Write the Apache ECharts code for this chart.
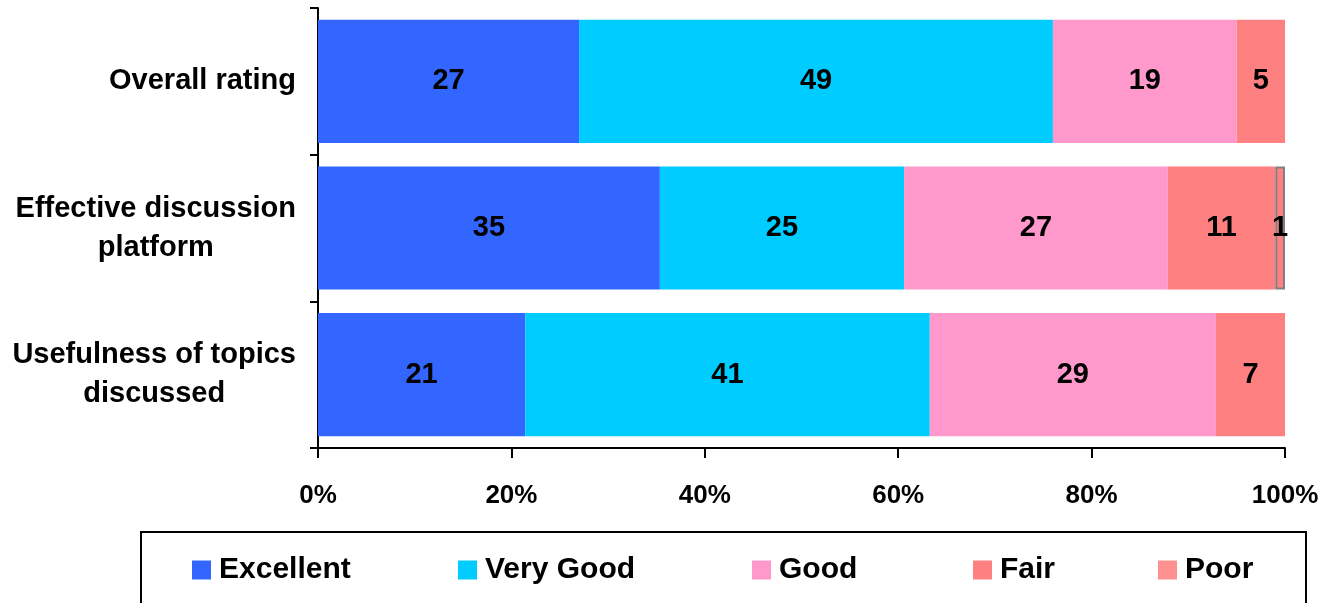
<!DOCTYPE html>
<html>
<head>
<meta charset="utf-8">
<script src="https://cdn.jsdelivr.net/npm/echarts@6/dist/echarts.min.js"></script>
<style>
html,body{margin:0;padding:0;background:#fff;}
#chart{width:1326px;height:603px;}
</style>
</head>
<body>
<div id="chart"></div>
<script>
const categories = ['Overall rating', 'Effective discussion\nplatform', 'Usefulness of topics\ndiscussed'];
const seriesNames = ['Excellent', 'Very Good', 'Good', 'Fair', 'Poor'];
const excellent = [27, 35, 21];
const veryGood = [49, 25, 41];
const good = [19, 27, 29];
const fair = [5, 11, 7];
const poor = [0, 1, 0];
const xTicks = [0, 20, 40, 60, 80, 100];

const colors = ['#3366FF', '#00CCFF', '#FF99CC', '#FF8080', '#FF8080'];
const legendIconColors = ['#3366FF', '#00CCFF', '#FF99CC', '#FF8080', '#FF9090'];
const FONT = '"Liberation Sans", Arial, sans-serif';

const raw = [excellent, veryGood, good, fair, poor];
const totals = categories.map((c, i) => raw.reduce((s, arr) => s + arr[i], 0));

const series = raw.map((arr, si) => ({
  name: seriesNames[si],
  type: 'bar',
  stack: 'total',
  barCategoryGap: '16%',
  itemStyle: si === 4 ? { color: colors[si], borderColor: '#808080', borderWidth: 2 } : { color: colors[si] },
  label: {
    show: true,
    position: 'inside',
    color: '#000',
    fontFamily: FONT,
    fontWeight: 'bold',
    fontSize: 29,
    formatter: p => (p.data && p.data.raw) ? String(p.data.raw) : ''
  },
  data: arr.map((v, i) => v === 0 ? '-' : { value: v / totals[i] * 100, raw: v })
}));

const legendLefts = [192, 458, 752, 973, 1158];
const legends = seriesNames.map((n, i) => ({
  data: [{ name: n, itemStyle: { color: legendIconColors[i], borderWidth: 0 } }],
  left: legendLefts[i],
  top: 555,
  padding: 0,
  icon: 'rect',
  itemWidth: 19,
  itemHeight: 19,
  selectedMode: false,
  textStyle: { fontFamily: FONT, fontWeight: 'bold', fontSize: 30, color: '#000', lineHeight: 30, padding: [0, 0, 0, 3] }
}));

const chart = echarts.init(document.getElementById('chart'));
chart.setOption({
  backgroundColor: '#fff',
  animation: false,
  grid: { left: 318, right: 41, top: 8, bottom: 155 },
  legend: legends,
  xAxis: {
    type: 'value',
    min: 0,
    max: 100,
    interval: 20,
    splitLine: { show: false },
    axisLine: { show: true, lineStyle: { color: '#000', width: 2 } },
    axisTick: { show: true, length: 10, lineStyle: { color: '#000', width: 2 } },
    axisLabel: {
      margin: 35,
      color: '#000',
      fontFamily: FONT,
      fontWeight: 'bold',
      fontSize: 26,
      formatter: v => xTicks.includes(v) ? v + '%' : ''
    }
  },
  yAxis: {
    type: 'category',
    inverse: true,
    data: categories,
    axisLine: { show: true, lineStyle: { color: '#000', width: 2 } },
    axisTick: { show: true, length: 8, lineStyle: { color: '#000', width: 2 } },
    axisLabel: {
      margin: 22,
      align: 'right',
      color: '#000',
      formatter: v => v.split('\n').map(l => '{a|' + l + '}').join('\n'),
      rich: {
        a: { align: 'center', fontFamily: FONT, fontWeight: 'bold', fontSize: 29, lineHeight: 39, color: '#000' }
      }
    }
  },
  graphic: [{
    type: 'rect',
    shape: { x: 141, y: 532, width: 1165, height: 100 },
    style: { fill: 'none', stroke: '#000', lineWidth: 2 },
    silent: true
  }],
  series: series
});
</script>
</body>
</html>
